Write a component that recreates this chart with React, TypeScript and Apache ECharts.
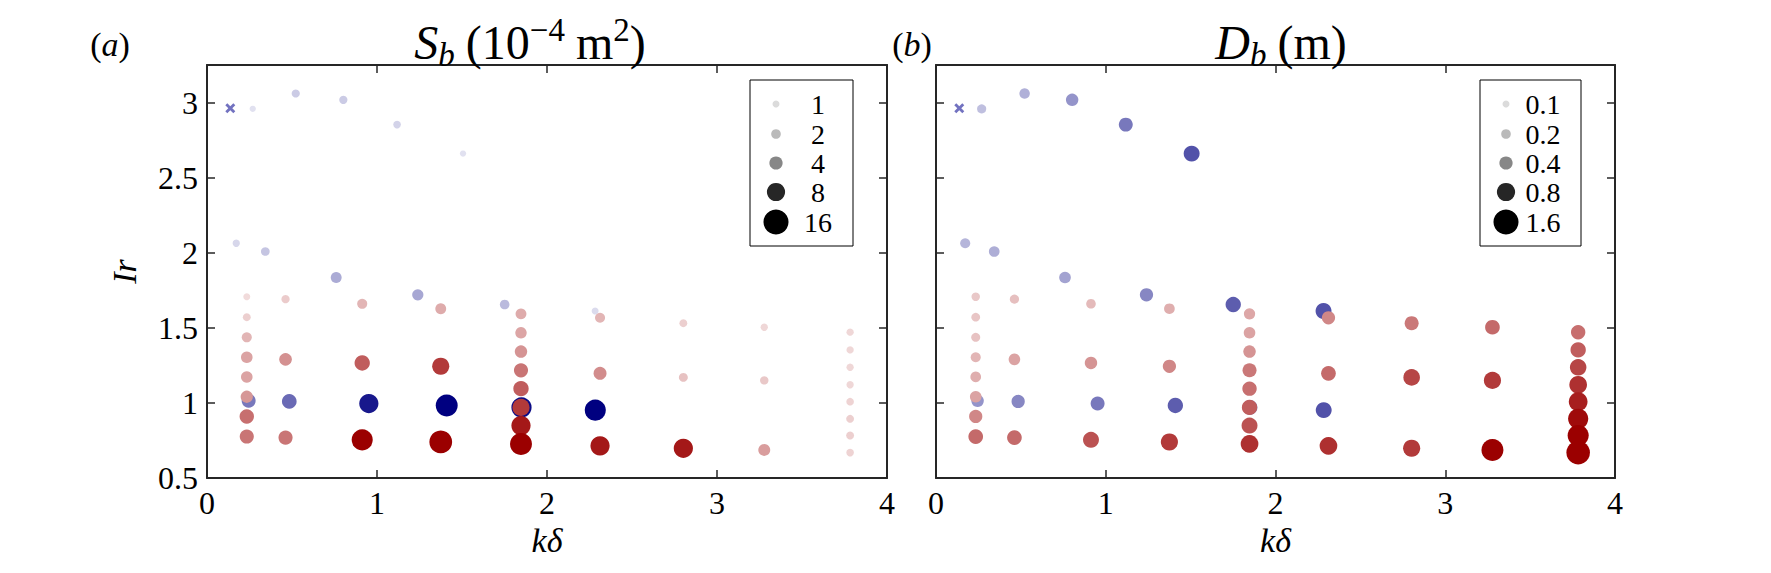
import React, { useEffect, useRef } from 'react';
import * as echarts from 'echarts';

// ---------- data ----------
// blue group: kδ, Ir, S_b (1e-4 m^2), D_b (m)
const blueKd = [0.269, 0.522, 0.802, 1.118, 1.506, 0.172, 0.343, 0.76, 1.24, 1.751, 2.283, 0.245, 0.484, 0.952, 1.41, 1.85, 2.284];
const blueIr = [2.958, 3.06, 3.018, 2.853, 2.66, 2.063, 2.008, 1.835, 1.72, 1.655, 1.612, 1.014, 1.01, 0.996, 0.983, 0.97, 0.952];
const blueSb = [0.8, 1.4, 1.4, 1.2, 0.8, 1.1, 1.6, 2.6, 2.8, 2.0, 1.0, 4.5, 5, 9, 12, 10, 11];
const blueDb = [0.18, 0.24, 0.35, 0.45, 0.6, 0.22, 0.25, 0.3, 0.4, 0.55, 0.6, 0.35, 0.4, 0.45, 0.55, 0.5, 0.6];

// red group
const redKd = [
  0.234, 0.234, 0.234, 0.234, 0.234, 0.234, 0.234, 0.234,
  0.462, 0.462, 0.462,
  0.913, 0.913, 0.913,
  1.375, 1.375, 1.375,
  1.847, 1.847, 1.847, 1.847, 1.847, 1.847, 1.847, 1.847,
  2.312, 2.312, 2.312,
  2.802, 2.802, 2.802,
  3.278, 3.278, 3.278,
  3.783, 3.783, 3.783, 3.783, 3.783, 3.783, 3.783, 3.783,
];
const redIr = [
  1.707, 1.571, 1.437, 1.304, 1.173, 1.041, 0.91, 0.776,
  1.691, 1.29, 0.769,
  1.66, 1.266, 0.754,
  1.627, 1.244, 0.74,
  1.593, 1.467, 1.342, 1.217, 1.095, 0.97, 0.849, 0.727,
  1.567, 1.197, 0.714,
  1.531, 1.17, 0.698,
  1.504, 1.15, 0.687,
  1.471, 1.353, 1.237, 1.121, 1.008, 0.894, 0.783, 0.669,
];
const redSb = [
  1.0, 1.3, 2.2, 3.0, 3.0, 3.4, 4.8, 4.6,
  1.4, 3.6, 4.6,
  2.2, 5.5, 11,
  2.6, 7, 13,
  2.6, 2.9, 3.5, 4.6, 5.5, 7, 9, 12,
  2.2, 3.8, 9,
  1.3, 1.7, 9,
  1.1, 1.5, 3.2,
  1.1, 1.1, 1.1, 1.1, 1.2, 1.3, 1.3, 1.2,
];
const redDb = [
  0.15, 0.16, 0.17, 0.22, 0.25, 0.3, 0.4, 0.5,
  0.18, 0.3, 0.5,
  0.2, 0.35, 0.6,
  0.25, 0.4, 0.7,
  0.28, 0.3, 0.35, 0.45, 0.48, 0.55, 0.6, 0.75,
  0.4, 0.5, 0.75,
  0.45, 0.65, 0.7,
  0.5, 0.7, 1.2,
  0.48, 0.55, 0.65, 0.75, 0.85, 1.0, 1.1, 1.4,
];

// point with no size value (drawn as a cross)
const crossKd = [0.137];
const crossIr = [2.962];

const xTicks = [0, 1, 2, 3, 4];
const yTicks = [0.5, 1, 1.5, 2, 2.5, 3];
const legendSb = [1, 2, 4, 8, 16];
const legendDb = [0.1, 0.2, 0.4, 0.8, 1.6];

// ---------- styling ----------
const FONT = '"Liberation Serif", "Times New Roman", serif';
const AXIS_COLOR = '#262626';
const BLUE = [0, 0, 128];
const RED = [155, 0, 0];
const BLACK = [0, 0, 0];
const CROSS_COLOR = '#7272c0';
const CROSS_PATH = 'path://M0,2 L2,0 L5,3 L8,0 L10,2 L7,5 L10,8 L8,10 L5,7 L2,10 L0,8 L3,5 Z';

// intensity / size mapping of the scaled value (value divided by the legend's base unit)
const ALPHA_V = [0.5, 1, 2, 3, 4, 6, 8, 11];
const ALPHA_A = [0.07, 0.14, 0.27, 0.36, 0.47, 0.68, 0.85, 1];
function alphaOf(eq: number) {
  const lx = Math.log2(eq);
  const ks = ALPHA_V.map((v) => Math.log2(v));
  if (lx <= ks[0]) return ALPHA_A[0];
  for (let i = 1; i < ks.length; i++) {
    if (lx <= ks[i]) {
      const t = (lx - ks[i - 1]) / (ks[i] - ks[i - 1]);
      return ALPHA_A[i - 1] + t * (ALPHA_A[i] - ALPHA_A[i - 1]);
    }
  }
  return 1;
}
function sizeOf(eq: number) {
  return 7 * Math.pow(eq, 0.46);
}
// opaque colour: base colour faded towards white
function tint(c: number[], a: number) {
  const m = (v: number) => Math.round(255 + a * (v - 255));
  return `rgb(${m(c[0])},${m(c[1])},${m(c[2])})`;
}

const GRIDS = [
  { left: 207, top: 65, width: 680, height: 413 },
  { left: 936, top: 65, width: 679, height: 413 },
];

function pointsFor(xs: number[], ys: number[], vals: number[], unit: number, base: number[]) {
  return xs.map((x, i) => {
    const eq = vals[i] / unit;
    return {
      value: [x, ys[i]],
      symbolSize: sizeOf(eq),
      itemStyle: { color: tint(base, alphaOf(eq)), opacity: 1 },
    };
  });
}

function makeAxes(idx: number) {
  const common = {
    gridIndex: idx,
    axisLine: { show: true, onZero: false, lineStyle: { color: AXIS_COLOR, width: 2 } },
    axisTick: { show: true, inside: true, length: 8, lineStyle: { color: AXIS_COLOR, width: 1.5 } },
    splitLine: { show: false },
  };
  const xBase = { ...common, type: 'value', min: 0, max: 4, interval: 1 };
  const yBase = { ...common, type: 'value', min: 0.5, max: 3.25, interval: 0.5 };
  const xAxes = [
    {
      ...xBase,
      position: 'bottom',
      axisTick: { ...common.axisTick, customValues: xTicks },
      axisLabel: { customValues: xTicks, color: '#000', fontFamily: FONT, fontSize: 32, margin: 9 },
      name: 'kδ',
      nameLocation: 'middle',
      nameGap: 32,
      nameTextStyle: { fontFamily: FONT, fontSize: 34, fontStyle: 'italic', color: '#000' },
    },
    {
      ...xBase,
      position: 'top',
      axisTick: { ...common.axisTick, customValues: xTicks },
      axisLabel: { show: false },
    },
  ];
  const yAxes = [
    {
      ...yBase,
      position: 'left',
      axisTick: { ...common.axisTick, customValues: yTicks },
      axisLabel: idx === 0
        ? { customValues: yTicks, color: '#000', fontFamily: FONT, fontSize: 32, margin: 9 }
        : { show: false },
      name: idx === 0 ? 'Ir' : '',
      nameLocation: 'middle',
      nameGap: 66,
      nameRotate: 90,
      nameTextStyle: { fontFamily: FONT, fontSize: 34, fontStyle: 'italic', color: '#000' },
    },
    {
      ...yBase,
      position: 'right',
      axisTick: { ...common.axisTick, customValues: yTicks },
      axisLabel: { show: false },
    },
  ];
  return { xAxes, yAxes };
}

function legendGraphic(
  box: { x: number; y: number; w: number; h: number; mx: number; tx: number },
  rows: number[],
  vals: number[],
  unit: number,
) {
  const children: any[] = [
    {
      type: 'rect',
      shape: { x: box.x, y: box.y, width: box.w, height: box.h },
      style: { fill: '#fff', stroke: '#000', lineWidth: 1 },
    },
  ];
  vals.forEach((v, i) => {
    const eq = v / unit;
    children.push({
      type: 'circle',
      shape: { cx: box.mx, cy: rows[i], r: sizeOf(eq) / 2 },
      style: { fill: tint(BLACK, alphaOf(eq)) },
    });
    children.push({
      type: 'text',
      style: {
        text: String(v),
        x: box.tx,
        y: rows[i],
        fill: '#000',
        fontFamily: FONT,
        fontSize: 28,
        align: 'center',
        verticalAlign: 'middle',
        textAlign: 'center',
        textVerticalAlign: 'middle',
      },
    });
  });
  return { type: 'group', z: 100, children };
}

const TITLE_RICH = {
  it: { fontFamily: FONT, fontStyle: 'italic', fontSize: 48, lineHeight: 58, fill: '#000', color: '#000' },
  rm: { fontFamily: FONT, fontSize: 48, lineHeight: 58, fill: '#000', color: '#000' },
  rmSp: { fontFamily: FONT, fontSize: 48, lineHeight: 58, padding: [0, 0, 0, 11], fill: '#000', color: '#000' },
  sub: { fontFamily: FONT, fontStyle: 'italic', fontSize: 33, lineHeight: 33, verticalAlign: 'bottom', fill: '#000', color: '#000' },
  sup: { fontFamily: FONT, fontSize: 33, lineHeight: 33, verticalAlign: 'top', fill: '#000', color: '#000' },
};
const LABEL_RICH = {
  rm: { fontFamily: FONT, fontSize: 34, fill: '#000', color: '#000' },
  it: { fontFamily: FONT, fontSize: 34, fontStyle: 'italic', fill: '#000', color: '#000' },
};

function textEl(text: string, x: number, y: number, size: number, rich?: any) {
  return {
    type: 'text',
    z: 100,
    style: {
      text,
      x,
      y,
      fill: '#000',
      fontFamily: FONT,
      fontSize: size,
      align: 'center',
      verticalAlign: 'middle',
      textAlign: 'center',
      textVerticalAlign: 'middle',
      rich,
    },
  };
}

function buildOption() {
  const a = makeAxes(0);
  const b = makeAxes(1);
  const xAxis = [...a.xAxes, ...b.xAxes];
  const yAxis = [...a.yAxes, ...b.yAxes];

  const series: any[] = [];
  [
    { vals: [blueSb, redSb], unit: 1, xi: 0, yi: 0 },
    { vals: [blueDb, redDb], unit: 0.1, xi: 2, yi: 2 },
  ].forEach((p) => {
    series.push({
      type: 'scatter',
      xAxisIndex: p.xi,
      yAxisIndex: p.yi,
      symbol: 'circle',
      data: pointsFor(blueKd, blueIr, p.vals[0], p.unit, BLUE),
      itemStyle: { borderWidth: 0, opacity: 1 },
    });
    series.push({
      type: 'scatter',
      xAxisIndex: p.xi,
      yAxisIndex: p.yi,
      symbol: CROSS_PATH,
      symbolSize: 10,
      data: crossKd.map((x, i) => [x, crossIr[i]]),
      itemStyle: { color: CROSS_COLOR, opacity: 1 },
    });
    series.push({
      type: 'scatter',
      xAxisIndex: p.xi,
      yAxisIndex: p.yi,
      symbol: 'circle',
      data: pointsFor(redKd, redIr, p.vals[1], p.unit, RED),
      itemStyle: { borderWidth: 0, opacity: 1 },
    });
  });

  const rows = [104, 134, 163, 192, 222];
  const graphic = [
    legendGraphic({ x: 750, y: 80, w: 103, h: 166, mx: 776, tx: 818 }, rows, legendSb, 1),
    legendGraphic({ x: 1480, y: 80, w: 101, h: 166, mx: 1506, tx: 1543 }, rows, legendDb, 0.1),
    textEl('{rm|(}{it|a}{rm|)}', 110, 44, 34, LABEL_RICH),
    textEl('{rm|(}{it|b}{rm|)}', 912, 44, 34, LABEL_RICH),
    textEl('{it|S}{sub|b}{rmSp|(10}{sup|−4}{rmSp|m}{sup|2}{rm|)}', 530, 42, 48, TITLE_RICH),
    textEl('{it|D}{sub|b}{rmSp|(m)}', 1281, 42, 48, TITLE_RICH),
  ];

  return {
    animation: false,
    backgroundColor: '#fff',
    grid: GRIDS.map((g) => ({ ...g, containLabel: false })),
    xAxis,
    yAxis,
    series,
    graphic,
  };
}

export default function App() {
  const ref = useRef<HTMLDivElement>(null);
  useEffect(() => {
    if (!ref.current) return;
    const chart = echarts.init(ref.current, undefined, { renderer: 'svg' });
    chart.setOption(buildOption() as any);
    return () => chart.dispose();
  }, []);
  return (
    <div
      ref={ref}
      style={{ position: 'absolute', left: 0, top: 0, width: 1771, height: 573, background: '#fff' }}
    />
  );
}
